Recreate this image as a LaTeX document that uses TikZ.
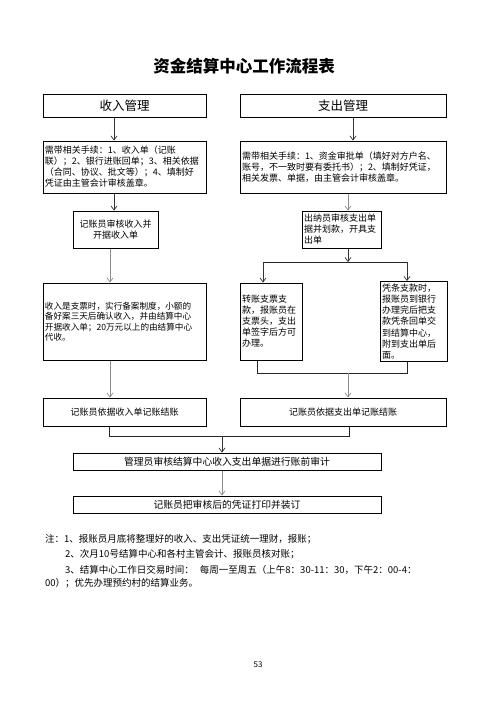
\documentclass[tikz,border=0pt]{standalone}
\usepackage{fontspec}
\setmainfont{Noto Sans CJK SC}
\usetikzlibrary{arrows.meta}
\tikzset{
  box/.style={draw, line width=1pt, inner sep=2pt, font=\fontsize{9}{11}\selectfont},
  arr/.style={draw=black!80, line width=0.7pt, -{Straight Barb[length=4pt,width=6pt]}},
  grayarr/.style={arr, draw=black!45},
  line/.style={draw=black!85, line width=0.8pt},
  note/.style={anchor=west, inner sep=0pt, font=\fontsize{9.5}{11}\selectfont}
}
\begin{document}
\begin{tikzpicture}[x=1pt,y=-1pt]
\useasboundingbox (0,0) rectangle (496,702);
\node[font=\bfseries\fontsize{16.5}{18}\selectfont] (title) at (244,66) {资金结算中心工作流程表};

\node[box, minimum width=163pt, minimum height=23pt, font=\fontsize{12.5}{14}\selectfont] (inH) at (124.5,105.5) {收入管理};
\node[box, minimum width=206pt, minimum height=23pt, font=\fontsize{12.5}{14}\selectfont] (outH) at (343,105.5) {支出管理};

\node[box, text width=159pt, minimum height=52pt, align=left] (inA) at (124.5,167) {需带相关手续：1、收入单（记账\\联）；2、银行进账回单；3、相关依据\\（合同、协议、批文等）；4、填制好\\凭证由主管会计审核盖章。};
\node[box, text width=202pt, minimum height=52pt, align=left] (outA) at (343,167) {需带相关手续：1、资金审批单（填好对方户名、\\账号，不一致时要有委托书）；2、填制好凭证，\\相关发票、单据，由主管会计审核盖章。};

\node[box, minimum width=85pt, minimum height=37pt, align=center] (inB) at (115.5,229.5) {记账员审核收入并\\开据收入单};
\node[box, text width=75pt, minimum height=37pt, align=left] (outB) at (341.5,229.5) {出纳员审核支出单\\据并划款，开具支\\出单};

\node[box, text width=159pt, minimum height=77pt, align=left, font=\fontsize{8.6}{10.5}\selectfont] (inC) at (124.5,321.5) {收入是支票时，实行备案制度，小额的\\备好案三天后确认收入，并由结算中心\\开据收入单；20万元以上的由结算中心\\代收。};
\node[box, text width=58pt, minimum height=77pt, align=left] (outC1) at (271,321.5) {转账支票支\\款，报账员在\\支票头，支出\\单签字后方可\\办理。};
\node[box, text width=63pt, minimum height=77pt, align=left, font=\fontsize{9}{11.3}\selectfont] (outC2) at (413.5,321.5) {凭条支款时，\\报账员到银行\\办理完后把支\\款凭条回单交\\到结算中心，\\附到支出单后\\面。};

\node[box, minimum width=163pt, minimum height=28pt] (inD) at (124.5,412) {记账员依据收入单记账结账};
\node[box, minimum width=206pt, minimum height=28pt] (outD) at (343,412) {记账员依据支出单记账结账};

\node[box, minimum width=308pt, minimum height=17pt, font=\fontsize{9.8}{11}\selectfont] (audit) at (227,461.5) {管理员审核结算中心收入支出单据进行账前审计};
\node[box, minimum width=308pt, minimum height=17pt, font=\fontsize{9.8}{11}\selectfont] (bind) at (227,504.5) {记账员把审核后的凭证打印并装订};

\coordinate (colL) at (114,0);
\coordinate (colL2) at (110,0);
\coordinate (colR) at (353,0);
\coordinate (colR2) at (348,0);
\coordinate (split) at (348,262);
\coordinate (splitL) at (263,262);
\coordinate (splitR) at (407,262);
\coordinate (join) at (348,373);
\coordinate (joinL) at (257,373);
\coordinate (joinR) at (407,373);
\coordinate (merge) at (222,436);
\coordinate (mergeL) at (109,436);
\coordinate (mergeR) at (349,436);

\draw[arr] (inH.south -| colL) -- (inA.north -| colL);
\draw[arr] (inA.south -| colL) -- (inB.north -| colL);
\draw[grayarr] (inB.south -| colL2) -- (inC.north -| colL2);
\draw[grayarr] (inC.south -| colL2) -- (inD.north -| colL2);

\draw[arr] (outH.south -| colR) -- (outA.north -| colR);
\draw[grayarr] (outA.south -| colR2) -- (outB.north -| colR2);
\draw[arr] (outB.south -| split) -- (split);
\draw[line] (splitL) -- (splitR);
\draw[arr] (splitL) -- (outC1.north -| splitL);
\draw[arr] (splitR) -- (outC2.north -| splitR);
\draw[line] (outC1.south -| joinL) |- (joinR) -- (outC2.south -| joinR);
\draw[grayarr] (join) -- (outD.north -| join);

\draw[line] (inD.south -| mergeL) |- (mergeR) -- (outD.south -| mergeR);
\draw[arr] (merge) -- (audit.north -| merge);
\draw[grayarr] (audit.south -| merge) -- (bind.north -| merge);

\node[note] (n1) at (45,539) {注：1、报账员月底将整理好的收入、支出凭证统一理财，报账；};
\node[note] (n2) at (65,554) {2、次月10号结算中心和各村主管会计、报账员核对账；};
\node[note] (n3) at (65,570) {3、结算中心工作日交易时间：\hspace{6pt}每周一至周五（上午8：30-11：30，下午2：00-4：};
\node[note] (n4) at (45,583) {00）；优先办理预约村的结算业务。};

\node[font=\fontsize{8}{9}\selectfont] (page) at (258,665) {53};
\end{tikzpicture}
\end{document}
